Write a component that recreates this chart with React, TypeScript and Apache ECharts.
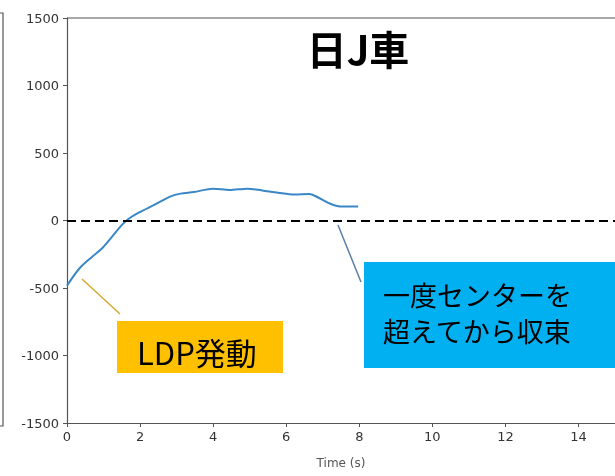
import React, { useEffect, useRef } from "react";
import * as echarts from "echarts";

const timeValues = [0, 0.35, 0.7, 0.97, 1.24, 1.51, 1.68, 1.95, 2.4, 2.84, 3.11, 3.47, 4.0, 4.45, 4.94, 5.34, 5.78, 6.23, 6.63, 6.85, 7.21, 7.48, 7.97];
const steerValues = [-482, -352, -266, -204, -118, -31, 11, 56, 117, 179, 199, 211, 236, 226, 236, 223, 206, 193, 196, 174, 124, 104, 104];
const xTickInterval = 2;
const yTickInterval = 500;
const title = "日J車";
const xAxisName = "Time (s)";
const noteLdp = "LDP発動";
const noteCenter = ["一度センターを", "超えてから収束"];

export default function App() {
  const ref = useRef<HTMLDivElement>(null);
  useEffect(() => {
    if (!ref.current) return;
    const chart = echarts.init(ref.current, null, { renderer: "svg" });
    const data = timeValues.map((t, i) => [t, steerValues[i]]);
    const cjk = "'Noto Sans CJK JP', 'Noto Sans', sans-serif";
    chart.setOption({
      animation: false,
      grid: { left: 67, top: 18, width: 561, height: 405 },
      xAxis: {
        type: "value",
        min: 0,
        max: 15,
        interval: xTickInterval,
        name: xAxisName,
        nameLocation: "middle",
        nameGap: 34,
        nameTextStyle: { fontFamily: "DejaVu Sans", fontSize: 12, color: "#555" },
        axisLine: { show: true, onZero: false, lineStyle: { color: "#555", width: 1.2 } },
        axisTick: { show: true, length: 4, lineStyle: { color: "#555" } },
        axisLabel: { fontFamily: "DejaVu Sans", fontSize: 13, color: "#333", margin: 7, showMaxLabel: false, formatter: (v: number) => String(v) },
        splitLine: { show: false },
      },
      yAxis: {
        type: "value",
        min: -1500,
        max: 1500,
        interval: yTickInterval,
        axisLine: { show: true, onZero: false, lineStyle: { color: "#555", width: 1.2 } },
        axisTick: { show: true, length: 4, lineStyle: { color: "#555" } },
        axisLabel: { fontFamily: "DejaVu Sans", fontSize: 13, color: "#333", margin: 8, formatter: (v: number) => String(v) },
        splitLine: { show: false },
      },
      series: [
        {
          type: "line",
          data,
          smooth: 0.3,
          symbol: "none",
          lineStyle: { color: "#3a87c8", width: 2 },
          markLine: {
            silent: true,
            symbol: "none",
            label: { show: false },
            lineStyle: { color: "#000", type: [9, 5], width: 2 },
            data: [{ yAxis: 0 }],
          },
        },
      ],
      graphic: [
        { type: "line", shape: { x1: 67, y1: 18, x2: 615, y2: 18 }, style: { stroke: "#555", lineWidth: 1.2 } },
        { type: "polyline", shape: { points: [[0, 13], [3, 13], [3, 426], [0, 426]] }, style: { stroke: "#555", lineWidth: 1.2, fill: null } },
        { type: "text", x: 358, y: 48, style: { text: title, font: `bold 40px ${cjk}`, fill: "#000", align: "center", verticalAlign: "middle" } },
        { type: "line", shape: { x1: 82, y1: 279, x2: 120, y2: 314 }, style: { stroke: "#D4AA30", lineWidth: 1.5 } },
        { type: "rect", shape: { x: 117, y: 321, width: 166, height: 52 }, style: { fill: "#FFC000" } },
        { type: "text", x: 137, y: 351, style: { text: noteLdp, font: `31px ${cjk}`, fill: "#000", align: "left", verticalAlign: "middle" } },
        { type: "line", shape: { x1: 338, y1: 225, x2: 361, y2: 282 }, style: { stroke: "#5A7FA8", lineWidth: 1.5 } },
        { type: "rect", shape: { x: 364, y: 262, width: 260, height: 106 }, style: { fill: "#00B0F0" } },
        { type: "text", x: 383, y: 294, style: { text: noteCenter[0], font: `27px ${cjk}`, fill: "#000", align: "left", verticalAlign: "middle" } },
        { type: "text", x: 383, y: 330, style: { text: noteCenter[1], font: `27px ${cjk}`, fill: "#000", align: "left", verticalAlign: "middle" } },
      ],
    });
    return () => chart.dispose();
  }, []);
  return <div ref={ref} style={{ position: "fixed", left: 0, top: 0, width: 615, height: 476 }} />;
}
